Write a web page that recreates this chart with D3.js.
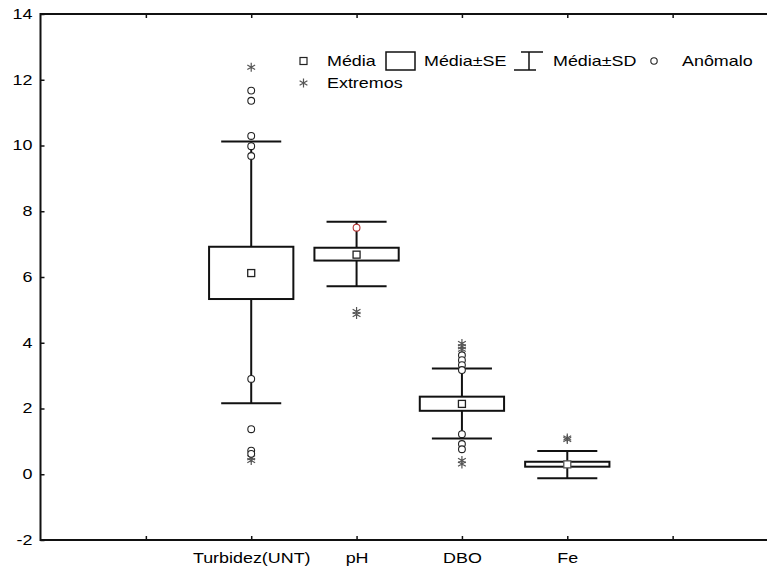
<!DOCTYPE html>
<html>
<head>
<meta charset="utf-8">
<script src="https://cdn.jsdelivr.net/npm/d3@7"></script>
<style>
  html, body { margin: 0; padding: 0; background: #fff; }
  svg { display: block; font-family: "Liberation Sans", Arial, sans-serif; }
</style>
</head>
<body>
<svg id="chart" width="767" height="570"></svg>
<script>
// ---- data ----
const categories = ["Turbidez(UNT)", "pH", "DBO", "Fe"];
const means  = [6.12, 6.68, 2.14, 0.30];
const seLow  = [5.33, 6.50, 1.93, 0.23];
const seHigh = [6.92, 6.89, 2.36, 0.38];
const sdLow  = [2.16, 5.72, 1.09, -0.12];
const sdHigh = [10.12, 7.68, 3.22, 0.71];
const anomalous = [
  [11.67, 11.36, 10.29, 9.98, 9.68, 2.90, 1.37, 0.72, 0.62],
  [7.50],
  [3.62, 3.47, 3.32, 3.17, 1.22, 0.92, 0.76],
  []
];
const extremes = [
  [12.38, 0.50, 0.42],
  [4.95, 4.86],
  [3.98, 3.88, 3.80, 0.42, 0.31],
  [1.10, 1.06]
];
const yTicks = [-2, 0, 2, 4, 6, 8, 10, 12, 14];
const xTickPositions = [1, 2, 3, 4, 5, 6];
const legendItems = ["Média", "Média±SE", "Média±SD", "Anômalo", "Extremos"];

// ---- layout ----
const svg = d3.select("#chart");
const pLeft = 40.5, pTop = 14, pBottom = 540, pRight = 778;
const x = d3.scaleLinear().domain([0, 7]).range([pLeft, pRight]);
const y = d3.scaleLinear().domain([-2, 14]).range([pBottom, pTop]);
const catPos = i => i + 2;
const boxHalf = 0.40, whiskHalf = 0.285;
const ink = "#111";
const FS = 14, SX = 1.28;

// frame
svg.append("rect").attr("x", pLeft).attr("y", pTop)
  .attr("width", pRight - pLeft).attr("height", pBottom - pTop)
  .attr("fill", "none").attr("stroke", ink).attr("stroke-width", 2);

// y axis
const yAxis = d3.axisLeft(y).tickValues(yTicks).tickSizeInner(-4).tickSizeOuter(0)
  .tickFormat(d => String(d));
const gy = svg.append("g").attr("transform", `translate(${pLeft},0)`).call(yAxis);
gy.select(".domain").remove();
gy.selectAll(".tick line").attr("stroke", ink).attr("stroke-width", 1.5);
gy.selectAll(".tick text").attr("font-size", FS).attr("fill", "#000")
  .attr("font-family", "Liberation Sans, Arial, sans-serif")
  .attr("x", 0).attr("transform", `translate(-8,0) scale(${SX},1)`);

// x axis (bottom)
const xAxis = d3.axisBottom(x).tickValues(xTickPositions).tickSizeInner(-4).tickSizeOuter(0)
  .tickPadding(13)
  .tickFormat(d => { const i = d - 2; return (i >= 0 && i < categories.length) ? categories[i] : ""; });
const gx = svg.append("g").attr("transform", `translate(0,${pBottom})`).call(xAxis);
gx.select(".domain").remove();
gx.selectAll(".tick line").attr("stroke", ink).attr("stroke-width", 1.5);
gx.selectAll(".tick text").attr("font-size", FS).attr("fill", "#000")
  .attr("font-family", "Liberation Sans, Arial, sans-serif")
  .attr("transform", `scale(${SX},1)`);

// top ticks
const gt = svg.append("g").attr("transform", `translate(0,${pTop})`)
  .call(d3.axisTop(x).tickValues(xTickPositions).tickSizeInner(-4).tickSizeOuter(0).tickFormat(""));
gt.select(".domain").remove();
gt.selectAll(".tick line").attr("stroke", ink).attr("stroke-width", 1.5);

// boxes
const g = svg.append("g");
categories.forEach((c, i) => {
  const cx = x(catPos(i));
  const bw = x(catPos(i) + boxHalf) - cx;
  const ww = x(catPos(i) + whiskHalf) - cx;
  g.append("line").attr("x1", cx).attr("x2", cx).attr("y1", y(sdHigh[i])).attr("y2", y(sdLow[i]))
    .attr("stroke", ink).attr("stroke-width", 2);
  [sdHigh[i], sdLow[i]].forEach(v => {
    g.append("line").attr("x1", cx - ww).attr("x2", cx + ww).attr("y1", y(v)).attr("y2", y(v))
      .attr("stroke", ink).attr("stroke-width", 2);
  });
  g.append("rect").attr("x", cx - bw).attr("y", y(seHigh[i]))
    .attr("width", 2 * bw).attr("height", y(seLow[i]) - y(seHigh[i]))
    .attr("fill", "#fff").attr("stroke", ink).attr("stroke-width", 2);
  g.append("rect").attr("x", cx - 3.5).attr("y", y(means[i]) - 3.5)
    .attr("width", 7).attr("height", 7).attr("fill", "#fff")
    .attr("stroke", i === 3 ? "#555" : "#222").attr("stroke-width", 1.3);
});

function asteriskPath(s) {
  let p = "";
  for (let k = 0; k < 3; k++) {
    const a = Math.PI / 2 + k * Math.PI / 3;
    const dx = Math.cos(a) * s, dy = Math.sin(a) * s;
    p += `M${-dx},${-dy}L${dx},${dy}`;
  }
  return p;
}

categories.forEach((c, i) => {
  extremes[i].forEach(v => {
    g.append("path").attr("d", asteriskPath(4.5))
      .attr("transform", `translate(${x(catPos(i))},${y(v)})`)
      .attr("stroke", "#555").attr("stroke-width", 1.2).attr("fill", "none");
  });
});
categories.forEach((c, i) => {
  anomalous[i].forEach(v => {
    g.append("circle").attr("cx", x(catPos(i))).attr("cy", y(v)).attr("r", 3.4)
      .attr("fill", "#fff").attr("stroke", i === 1 ? "#b23030" : "#222").attr("stroke-width", 1.1);
  });
});

// legend
const lg = svg.append("g").attr("font-size", FS).attr("fill", "#000");
const row1 = 61, row2 = 83;
function legendText(tx, ty, s) {
  lg.append("text").attr("transform", `translate(${tx},${ty}) scale(${SX},1)`).text(s);
}
lg.append("rect").attr("x", 300).attr("y", row1 - 3.5).attr("width", 7).attr("height", 7)
  .attr("fill", "#fff").attr("stroke", "#222").attr("stroke-width", 1.2);
legendText(327, row1 + 5, legendItems[0]);
lg.append("rect").attr("x", 386).attr("y", row1 - 9).attr("width", 29).attr("height", 18)
  .attr("fill", "#fff").attr("stroke", ink).attr("stroke-width", 1.5);
legendText(424, row1 + 5, legendItems[1]);
lg.append("line").attr("x1", 521).attr("x2", 543).attr("y1", row1 - 9).attr("y2", row1 - 9).attr("stroke", ink).attr("stroke-width", 1.5);
lg.append("line").attr("x1", 514).attr("x2", 536).attr("y1", row1 + 9).attr("y2", row1 + 9).attr("stroke", ink).attr("stroke-width", 1.5);
lg.append("line").attr("x1", 529).attr("x2", 529).attr("y1", row1 - 9).attr("y2", row1 + 9).attr("stroke", ink).attr("stroke-width", 1.5);
legendText(553, row1 + 5, legendItems[2]);
lg.append("circle").attr("cx", 654).attr("cy", row1).attr("r", 3.2)
  .attr("fill", "#fff").attr("stroke", "#222").attr("stroke-width", 1.1);
legendText(682, row1 + 5, legendItems[3]);
lg.append("path").attr("d", asteriskPath(4.5)).attr("transform", `translate(303.5,${row2})`)
  .attr("stroke", "#555").attr("stroke-width", 1.2).attr("fill", "none");
legendText(327, row2 + 5, legendItems[4]);
</script>
</body>
</html>
